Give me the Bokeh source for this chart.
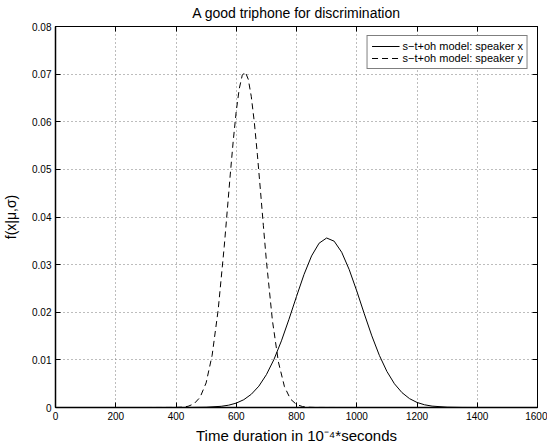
from bokeh.plotting import figure
from bokeh.models import (Range1d, LinearAxis, FixedTicker, CustomJSTickFormatter,
                          Legend, LegendItem, CustomLabelingPolicy)
from bokeh.embed import file_html
from bokeh.resources import INLINE

title_text = "A good triphone for discrimination"
ylabel_text = "f(x|\u03bc,\u03c3)"
xlabel_text = "Time duration in 10\u207b\u2074*seconds"
series_names = ["s\u2212t+oh model: speaker x", "s\u2212t+oh model: speaker y"]

x_ticks = [0, 200, 400, 600, 800, 1000, 1200, 1400, 1600]
y_ticks = [0, 0.01, 0.02, 0.03, 0.04, 0.05, 0.06, 0.07, 0.08]

# speaker x (solid)
sx_t = [300, 400, 450, 500, 550, 575, 600, 625, 650, 675, 700, 725, 750, 775, 800,
        825, 850, 875, 900, 925, 950, 975, 1000, 1025, 1050, 1075, 1100, 1125, 1150,
        1175, 1200, 1225, 1250, 1300, 1350, 1400, 1500]
sx_f = [0.0, 0.000002, 0.00001, 0.000055, 0.00025, 0.00049, 0.00092, 0.00164, 0.00278,
        0.00448, 0.00689, 0.01007, 0.0140, 0.01853, 0.02332, 0.02794, 0.03183, 0.03450,
        0.03559, 0.03492, 0.03260, 0.02895, 0.02447, 0.01967, 0.01504, 0.01095, 0.00758,
        0.00499, 0.00313, 0.00187, 0.00106, 0.00057, 0.00029, 0.000067, 0.000012,
        0.000002, 0.0]

# speaker y (dashed)
sy_t = [300, 400, 420, 440, 460, 480, 500, 520, 540, 560, 570, 580, 590, 600, 610, 620,
        630, 640, 650, 660, 670, 680, 690, 700, 720, 740, 760, 780, 800, 820, 840, 860, 950]
sy_f = [0.0, 0.000018, 0.000071, 0.00025, 0.00078, 0.00215, 0.00517, 0.01098, 0.02051,
        0.03373, 0.04124, 0.04883, 0.0560, 0.06222, 0.06695, 0.06979, 0.07045, 0.06890,
        0.06526, 0.05988, 0.0532, 0.04581, 0.0382, 0.03085, 0.01829, 0.00954, 0.00438,
        0.00177, 0.00063, 0.000197, 0.000054, 0.000013, 0.0]

FONT = "Liberation Sans"

p = figure(width=547, height=448, output_backend="svg", toolbar_location=None,
           x_range=Range1d(x_ticks[0], x_ticks[-1]), y_range=Range1d(y_ticks[0], y_ticks[-1]),
           min_border_left=53, min_border_right=10, min_border_top=25, min_border_bottom=41)
p.background_fill_color = "white"
p.border_fill_color = "white"
p.outline_line_color = "black"
p.outline_line_width = 1

p.title.text = title_text
p.title.align = "center"
p.title.text_font = FONT
p.title.text_font_size = "14px"
p.title.text_font_style = "normal"
p.title.text_color = "black"
p.title.standoff = 4
p.title.offset = 0

yfmt = CustomJSTickFormatter(code="return tick == 0 ? '0' : tick.toFixed(2);")

xa = p.xaxis[0]
ya = p.yaxis[0]
for ax in (xa, ya):
    ax.major_tick_in = 5
    ax.major_tick_out = 0
    ax.minor_tick_line_color = None
    ax.axis_line_width = 1.5
    ax.axis_line_color = "black"
    ax.major_tick_line_color = "black"
    ax.major_label_text_font = FONT
    ax.major_label_text_font_size = "10px"
    ax.major_label_text_color = "black"
    ax.major_label_standoff = 4
    ax.axis_label_text_font = FONT
    ax.axis_label_text_font_style = "normal"
    ax.axis_label_text_color = "black"
xa.ticker = FixedTicker(ticks=x_ticks)
ya.ticker = FixedTicker(ticks=y_ticks)
ya.formatter = yfmt
ya.axis_label = ylabel_text
ya.axis_label_text_font_size = "14px"
ya.axis_label_standoff = 10
xa.axis_label = xlabel_text
xa.axis_label_text_font_size = "15px"
xa.axis_label_standoff = 4

no_labels = CustomLabelingPolicy(code="return new Set();")
top = LinearAxis(ticker=FixedTicker(ticks=x_ticks), major_label_policy=no_labels)
right = LinearAxis(ticker=FixedTicker(ticks=y_ticks),
                   major_label_policy=CustomLabelingPolicy(code="return new Set();"))
for ax in (top, right):
    ax.major_tick_in = 5
    ax.major_tick_out = 0
    ax.minor_tick_line_color = None
    ax.axis_line_width = 1
    ax.major_label_text_font_size = "1px"
    ax.major_label_standoff = 0
p.add_layout(top, "above")
p.add_layout(right, "right")

p.xgrid.ticker = FixedTicker(ticks=x_ticks)
p.ygrid.ticker = FixedTicker(ticks=y_ticks)
for g in (p.xgrid, p.ygrid):
    g.grid_line_color = "#7a7a7a"
    g.grid_line_dash = "1 3"
    g.grid_line_width = 1

r1 = p.line(sx_t, sx_f, line_color="black", line_width=1)
r2 = p.line(sy_t, sy_f, line_color="black", line_width=1, line_dash="6 4")

legend = Legend(items=[LegendItem(label=series_names[0], renderers=[r1]),
                       LegendItem(label=series_names[1], renderers=[r2])],
                location="top_right")
legend.margin = 9
legend.padding = 4
legend.spacing = 0
legend.glyph_width = 28
legend.glyph_height = 12
legend.label_height = 12
legend.label_standoff = 3
legend.label_text_font = FONT
legend.label_text_font_size = "11px"
legend.label_text_color = "black"
legend.border_line_color = "black"
legend.border_line_width = 1
legend.background_fill_color = "white"
legend.background_fill_alpha = 1
p.add_layout(legend, "center")

open("out.html", "w").write(file_html(p, INLINE))
